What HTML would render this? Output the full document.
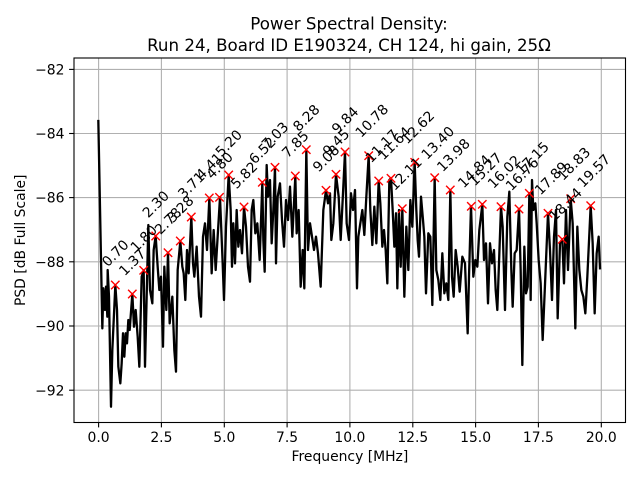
<!DOCTYPE html>
<html><head><meta charset="utf-8"><style>
html,body{margin:0;padding:0;background:#fff;}
svg{display:block;}
text{font-family:"DejaVu Sans","Liberation Sans",sans-serif;fill:#000;}
</style></head><body>
<svg width="640" height="480" viewBox="0 0 640 480" xmlns="http://www.w3.org/2000/svg">
<rect width="640" height="480" fill="#fff"/>
<!-- grid -->
<g stroke="#b0b0b0" stroke-width="1.1">
<line x1="98.6" y1="58" x2="98.6" y2="422.5"/>
<line x1="161.4" y1="58" x2="161.4" y2="422.5"/>
<line x1="224.3" y1="58" x2="224.3" y2="422.5"/>
<line x1="287.1" y1="58" x2="287.1" y2="422.5"/>
<line x1="349.9" y1="58" x2="349.9" y2="422.5"/>
<line x1="412.8" y1="58" x2="412.8" y2="422.5"/>
<line x1="475.6" y1="58" x2="475.6" y2="422.5"/>
<line x1="538.4" y1="58" x2="538.4" y2="422.5"/>
<line x1="601.3" y1="58" x2="601.3" y2="422.5"/>
<line x1="74" y1="69.4" x2="625.5" y2="69.4"/>
<line x1="74" y1="133.5" x2="625.5" y2="133.5"/>
<line x1="74" y1="197.6" x2="625.5" y2="197.6"/>
<line x1="74" y1="261.8" x2="625.5" y2="261.8"/>
<line x1="74" y1="326.0" x2="625.5" y2="326.0"/>
<line x1="74" y1="390.2" x2="625.5" y2="390.2"/>
</g>
<!-- data line -->
<g fill="none" stroke="#000" stroke-width="2.3" stroke-linejoin="round" stroke-linecap="square">
<g transform="translate(95 110) scale(0.333333)"><polyline vector-effect="non-scaling-stroke" points="10,33 22,655 25,535 30,600 33,530 37,620 38,480 42,560 48,890 52,720 61,525 66,600 70,770 76,820 80,760 84,670 88,740 92,670 96,700 100,630 104,660 112,552 117,650 122,600 128,680 133,770 140,500 146,481 150,770 155,560 160,345 165,540 172,580 176,420 182,378 188,470 193,540 198,500 204,710 208,470 214,600 219,428 224,640 232,560 238,720 243,785 248,480 256,393 262,470 266,490 271,570 276,420 281,490 289,321 294,460 298,500 305,410 312,560 318,620 324,380 330,340 336,420 343,264 350,490 356,360 362,480 375,262"/></g>
<g transform="translate(220 110) scale(0.333333)"><polyline vector-effect="non-scaling-stroke" points="0,262 8,460 12,570 18,350 26,195 32,300 36,470 40,340 45,460 50,300 55,410 60,360 66,430 72,291 78,350 84,470 90,515 95,300 100,270 106,370 112,340 119,450 127,217 130,390 134,485 140,165 144,260 150,210 155,400 160,300 165,172 168,460 173,260 180,220 186,330 192,410 198,270 204,330 210,230 217,380 226,198 230,370 236,300 242,530 248,420 253,535 259,119 264,420 270,340 276,380 282,420 288,380 294,430 302,530 310,300 318,241 324,280 330,250 334,390 340,340 348,193 356,260 362,390 368,270 375,126"/></g>
<g transform="translate(345 110) scale(0.333333)"><polyline vector-effect="non-scaling-stroke" points="0,126 5,340 12,390 18,250 24,300 30,240 36,535 40,380 46,340 52,300 58,375 64,260 71,137 76,300 82,405 88,290 94,400 101,213 106,280 112,410 117,360 122,420 127,520 133,210 138,205 143,300 148,410 153,310 157,535 162,300 167,470 172,296 178,560 184,350 190,480 196,270 202,350 209,157 214,300 218,390 222,440 228,260 234,330 238,380 243,550 250,370 256,380 262,585 269,203 274,480 280,510 286,570 292,430 298,550 304,520 310,570 316,240 321,500 326,560 332,420 338,470 344,545 352,440 360,460 368,670 372,500 378,289"/></g>
<g transform="translate(470 110) scale(0.333333)"><polyline vector-effect="non-scaling-stroke" points="3,289 10,500 16,450 22,470 28,360 37,283 42,450 48,400 54,580 60,400 66,460 72,420 77,540 82,600 93,290 98,350 105,600 112,320 118,245 124,480 128,590 134,430 140,420 147,297 152,480 157,765 163,410 168,550 173,530 178,250 182,570 186,210 190,300 196,280 200,340 206,450 212,520 218,690 226,500 234,310 240,420 246,570 252,380 258,300 263,625 270,400 277,388 282,520 288,300 294,480 302,266 308,340 316,655 322,350 328,480 334,540 340,560 346,610 352,500 362,287 368,400 374,610 380,430 386,380 390,475"/></g>
</g>
<!-- markers -->
<g stroke="#ff0000" stroke-width="1.4" fill="none">
<path d="M111.1,280.8l8.4,8.4m0,-8.4l-8.4,8.4"/>
<path d="M128.1,289.8l8.4,8.4m0,-8.4l-8.4,8.4"/>
<path d="M139.5,266.1l8.4,8.4m0,-8.4l-8.4,8.4"/>
<path d="M151.5,231.8l8.4,8.4m0,-8.4l-8.4,8.4"/>
<path d="M163.8,248.5l8.4,8.4m0,-8.4l-8.4,8.4"/>
<path d="M176.1,236.8l8.4,8.4m0,-8.4l-8.4,8.4"/>
<path d="M187.1,212.8l8.4,8.4m0,-8.4l-8.4,8.4"/>
<path d="M205.1,193.8l8.4,8.4m0,-8.4l-8.4,8.4"/>
<path d="M215.3,193.1l8.4,8.4m0,-8.4l-8.4,8.4"/>
<path d="M224.5,170.8l8.4,8.4m0,-8.4l-8.4,8.4"/>
<path d="M239.8,202.8l8.4,8.4m0,-8.4l-8.4,8.4"/>
<path d="M258.1,178.1l8.4,8.4m0,-8.4l-8.4,8.4"/>
<path d="M270.8,163.1l8.4,8.4m0,-8.4l-8.4,8.4"/>
<path d="M291.1,171.8l8.4,8.4m0,-8.4l-8.4,8.4"/>
<path d="M302.1,145.5l8.4,8.4m0,-8.4l-8.4,8.4"/>
<path d="M321.8,186.1l8.4,8.4m0,-8.4l-8.4,8.4"/>
<path d="M331.8,170.1l8.4,8.4m0,-8.4l-8.4,8.4"/>
<path d="M340.8,147.8l8.4,8.4m0,-8.4l-8.4,8.4"/>
<path d="M364.5,151.5l8.4,8.4m0,-8.4l-8.4,8.4"/>
<path d="M374.5,176.8l8.4,8.4m0,-8.4l-8.4,8.4"/>
<path d="M386.8,174.1l8.4,8.4m0,-8.4l-8.4,8.4"/>
<path d="M398.1,204.5l8.4,8.4m0,-8.4l-8.4,8.4"/>
<path d="M410.5,158.1l8.4,8.4m0,-8.4l-8.4,8.4"/>
<path d="M430.5,173.5l8.4,8.4m0,-8.4l-8.4,8.4"/>
<path d="M446.1,185.8l8.4,8.4m0,-8.4l-8.4,8.4"/>
<path d="M467.1,202.1l8.4,8.4m0,-8.4l-8.4,8.4"/>
<path d="M478.1,200.1l8.4,8.4m0,-8.4l-8.4,8.4"/>
<path d="M496.8,202.5l8.4,8.4m0,-8.4l-8.4,8.4"/>
<path d="M514.8,204.8l8.4,8.4m0,-8.4l-8.4,8.4"/>
<path d="M525.1,189.1l8.4,8.4m0,-8.4l-8.4,8.4"/>
<path d="M543.8,209.1l8.4,8.4m0,-8.4l-8.4,8.4"/>
<path d="M558.1,235.1l8.4,8.4m0,-8.4l-8.4,8.4"/>
<path d="M566.5,194.5l8.4,8.4m0,-8.4l-8.4,8.4"/>
<path d="M586.5,201.5l8.4,8.4m0,-8.4l-8.4,8.4"/>
</g>
<!-- annotations -->
<g font-size="13.9px">
<text x="107.8" y="267.5" transform="rotate(-45 107.8 267.5)">0.70</text>
<text x="124.8" y="276.5" transform="rotate(-45 124.8 276.5)">1.37</text>
<text x="136.2" y="252.8" transform="rotate(-45 136.2 252.8)">1.80</text>
<text x="148.2" y="218.5" transform="rotate(-45 148.2 218.5)">2.30</text>
<text x="160.5" y="235.2" transform="rotate(-45 160.5 235.2)">2.78</text>
<text x="172.8" y="223.5" transform="rotate(-45 172.8 223.5)">3.28</text>
<text x="183.8" y="199.5" transform="rotate(-45 183.8 199.5)">3.71</text>
<text x="201.8" y="180.5" transform="rotate(-45 201.8 180.5)">4.41</text>
<text x="212.0" y="179.8" transform="rotate(-45 212.0 179.8)">4.80</text>
<text x="221.2" y="157.5" transform="rotate(-45 221.2 157.5)">5.20</text>
<text x="236.5" y="189.5" transform="rotate(-45 236.5 189.5)">5.82</text>
<text x="254.8" y="164.8" transform="rotate(-45 254.8 164.8)">6.52</text>
<text x="267.5" y="149.8" transform="rotate(-45 267.5 149.8)">7.03</text>
<text x="287.8" y="158.5" transform="rotate(-45 287.8 158.5)">7.85</text>
<text x="298.8" y="132.2" transform="rotate(-45 298.8 132.2)">8.28</text>
<text x="318.5" y="172.8" transform="rotate(-45 318.5 172.8)">9.08</text>
<text x="328.5" y="156.8" transform="rotate(-45 328.5 156.8)">9.45</text>
<text x="337.5" y="134.5" transform="rotate(-45 337.5 134.5)">9.84</text>
<text x="361.2" y="138.2" transform="rotate(-45 361.2 138.2)">10.78</text>
<text x="371.2" y="163.5" transform="rotate(-45 371.2 163.5)">11.17</text>
<text x="383.5" y="160.8" transform="rotate(-45 383.5 160.8)">11.64</text>
<text x="394.8" y="191.2" transform="rotate(-45 394.8 191.2)">12.11</text>
<text x="407.2" y="144.8" transform="rotate(-45 407.2 144.8)">12.62</text>
<text x="427.2" y="160.2" transform="rotate(-45 427.2 160.2)">13.40</text>
<text x="442.8" y="172.5" transform="rotate(-45 442.8 172.5)">13.98</text>
<text x="463.8" y="188.8" transform="rotate(-45 463.8 188.8)">14.84</text>
<text x="474.8" y="186.8" transform="rotate(-45 474.8 186.8)">15.27</text>
<text x="493.5" y="189.2" transform="rotate(-45 493.5 189.2)">16.02</text>
<text x="511.5" y="191.5" transform="rotate(-45 511.5 191.5)">16.76</text>
<text x="521.8" y="175.8" transform="rotate(-45 521.8 175.8)">17.15</text>
<text x="540.5" y="195.8" transform="rotate(-45 540.5 195.8)">17.89</text>
<text x="554.8" y="221.8" transform="rotate(-45 554.8 221.8)">18.44</text>
<text x="563.2" y="181.2" transform="rotate(-45 563.2 181.2)">18.83</text>
<text x="583.2" y="188.2" transform="rotate(-45 583.2 188.2)">19.57</text>
</g>
<!-- spines -->
<rect x="74" y="58" width="551.5" height="364.5" fill="none" stroke="#000" stroke-width="1.1"/>
<!-- ticks -->
<g stroke="#000" stroke-width="1.1">
<line x1="98.6" y1="422.5" x2="98.6" y2="427.4"/>
<line x1="161.4" y1="422.5" x2="161.4" y2="427.4"/>
<line x1="224.3" y1="422.5" x2="224.3" y2="427.4"/>
<line x1="287.1" y1="422.5" x2="287.1" y2="427.4"/>
<line x1="349.9" y1="422.5" x2="349.9" y2="427.4"/>
<line x1="412.8" y1="422.5" x2="412.8" y2="427.4"/>
<line x1="475.6" y1="422.5" x2="475.6" y2="427.4"/>
<line x1="538.4" y1="422.5" x2="538.4" y2="427.4"/>
<line x1="601.3" y1="422.5" x2="601.3" y2="427.4"/>
<line x1="69.1" y1="69.4" x2="74" y2="69.4"/>
<line x1="69.1" y1="133.5" x2="74" y2="133.5"/>
<line x1="69.1" y1="197.6" x2="74" y2="197.6"/>
<line x1="69.1" y1="261.8" x2="74" y2="261.8"/>
<line x1="69.1" y1="326.0" x2="74" y2="326.0"/>
<line x1="69.1" y1="390.2" x2="74" y2="390.2"/>
</g>
<g font-size="13.9px" text-anchor="middle">
<text x="98.6" y="442">0.0</text>
<text x="161.4" y="442">2.5</text>
<text x="224.3" y="442">5.0</text>
<text x="287.1" y="442">7.5</text>
<text x="349.9" y="442">10.0</text>
<text x="412.8" y="442">12.5</text>
<text x="475.6" y="442">15.0</text>
<text x="538.4" y="442">17.5</text>
<text x="601.3" y="442">20.0</text>
</g>
<g font-size="13.9px" text-anchor="end">
<text x="64.5" y="74.5">−82</text>
<text x="64.5" y="138.6">−84</text>
<text x="64.5" y="202.7">−86</text>
<text x="64.5" y="266.9">−88</text>
<text x="64.5" y="331.1">−90</text>
<text x="64.5" y="395.3">−92</text>
</g>
<text x="349.9" y="461" font-size="13.9px" text-anchor="middle">Frequency [MHz]</text>
<text x="25" y="240.3" font-size="13.9px" text-anchor="middle" transform="rotate(-90 25 240.3)">PSD [dB Full Scale]</text>
<g font-size="16.67px" text-anchor="middle">
<text x="349" y="29.5">Power Spectral Density:</text>
<text x="349" y="51.2">Run 24, Board ID E190324, CH 124, hi gain, 25Ω</text>
</g>
</svg>
</body></html>
